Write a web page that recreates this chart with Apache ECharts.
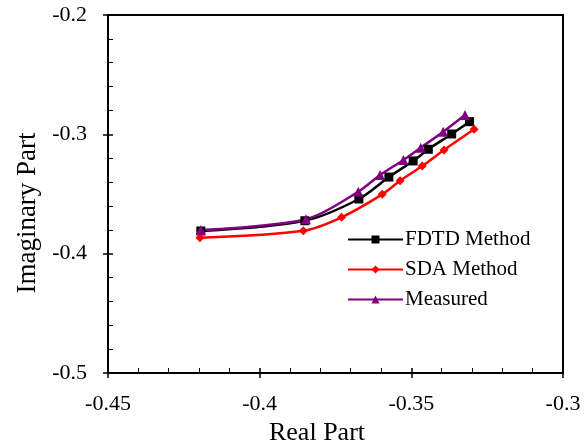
<!DOCTYPE html>
<html><head><meta charset="utf-8">
<script src="https://cdn.jsdelivr.net/npm/echarts@6/dist/echarts.min.js"></script>
<style>html,body{margin:0;padding:0;background:#fff}#c{width:586px;height:443px}</style>
</head><body><div id="c"></div>
<script>
const fdtdX = [-0.4194, -0.3851, -0.3673, -0.3574, -0.3494, -0.3444, -0.3367, -0.3308];
const fdtdY = [-0.3810, -0.3724, -0.3542, -0.3358, -0.3223, -0.3125, -0.2997, -0.2894];
const sdaX = [-0.4197, -0.3856, -0.3730, -0.3596, -0.3537, -0.3464, -0.3392, -0.3293];
const sdaY = [-0.3866, -0.3808, -0.3695, -0.3503, -0.3389, -0.3265, -0.3131, -0.2958];
const measX = [-0.4194, -0.3847, -0.3675, -0.3603, -0.3526, -0.3469, -0.3395, -0.3323];
const measY = [-0.3802, -0.3712, -0.3481, -0.3341, -0.3215, -0.3112, -0.2978, -0.2838];
const seriesNames = ['FDTD Method', 'SDA Method', 'Measured'];
const xTickLabels = ['-0.45', '-0.4', '-0.35', '-0.3'];
const yTickLabels = ['-0.5', '-0.4', '-0.3', '-0.2'];

const zip = (a, b) => a.map((v, i) => [v, b[i]]);
const font = 'Liberation Serif';
const fmtX = v => { const s = xTickLabels.find(t => Math.abs(parseFloat(t) - v) < 1e-9); return s || ''; };
const fmtY = v => { const s = yTickLabels.find(t => Math.abs(parseFloat(t) - v) < 1e-9); return s || ''; };

const chart = echarts.init(document.getElementById('c'));
const lineW = 2.5;
chart.setOption({
  animation: false,
  grid: { left: 108, right: 23, top: 15, bottom: 70, outerBoundsMode: 'none', containLabel: false,
    show: true, borderColor: '#000', borderWidth: 2, backgroundColor: 'transparent' },
  legend: {
    orient: 'vertical', left: 342, top: 224, itemWidth: 55, itemHeight: 10, itemGap: 9,
    textStyle: { fontFamily: font, fontSize: 21, color: '#000', padding: [0, 0, 0, -3] },
    data: seriesNames
  },
  xAxis: [{
    type: 'value', min: -0.45, max: -0.3, interval: 0.05, position: 'bottom',
    name: 'Real Part', nameLocation: 'middle', nameGap: 44,
    nameTextStyle: { fontFamily: font, fontSize: 26, color: '#000', padding: [0, 37, 0, 0] },
    axisLine: { show: true, lineStyle: { color: '#000', width: 2 } },
    axisTick: { show: true, inside: false, length: 5, lineStyle: { color: '#000', width: 1.5 } },
    axisLabel: { fontFamily: font, fontSize: 22, color: '#000', margin: 20, formatter: fmtX },
    splitLine: { show: false }
  }, {
    type: 'value', min: -0.45, max: -0.3, interval: 0.05, position: 'bottom',
    axisLine: { show: false },
    axisTick: { show: true, inside: true, length: 5, lineStyle: { color: '#000', width: 1.5 } },
    minorTick: { show: true, splitNumber: 5, length: 5, lineStyle: { color: '#000', width: 1 } },
    axisLabel: { show: false }, splitLine: { show: false }
  }],
  yAxis: [{
    type: 'value', min: -0.5, max: -0.2, interval: 0.1, position: 'left',
    name: 'Imaginary Part', nameLocation: 'middle', nameGap: 67, nameRotate: 90,
    nameTextStyle: { fontFamily: font, fontSize: 27, color: '#000', padding: [0, 38, 0, 0] },
    axisLine: { show: true, lineStyle: { color: '#000', width: 2 } },
    axisTick: { show: true, inside: false, length: 5, lineStyle: { color: '#000', width: 1.5 } },
    axisLabel: { fontFamily: font, fontSize: 22, color: '#000', margin: 21, formatter: fmtY },
    splitLine: { show: false }
  }, {
    type: 'value', min: -0.5, max: -0.2, interval: 0.1, position: 'left',
    axisLine: { show: false },
    axisTick: { show: true, inside: true, length: 5, lineStyle: { color: '#000', width: 1.5 } },
    minorTick: { show: true, splitNumber: 5, length: 5, lineStyle: { color: '#000', width: 1 } },
    axisLabel: { show: false }, splitLine: { show: false }
  }],
  series: [
    { name: seriesNames[0], type: 'line', smooth: 0.3, data: zip(fdtdX, fdtdY), symbol: 'rect', symbolSize: 9,
      lineStyle: { color: '#000', width: lineW }, itemStyle: { color: '#000' } },
    { name: seriesNames[1], type: 'line', smooth: 0.3, data: zip(sdaX, sdaY), symbol: 'diamond', symbolSize: 9,
      lineStyle: { color: '#ff0000', width: lineW }, itemStyle: { color: '#ff0000' } },
    { name: seriesNames[2], type: 'line', smooth: 0.3, data: zip(measX, measY), symbol: 'triangle', symbolSize: 10,
      lineStyle: { color: '#800080', width: lineW }, itemStyle: { color: '#800080' } }
  ]
});
</script></body></html>
